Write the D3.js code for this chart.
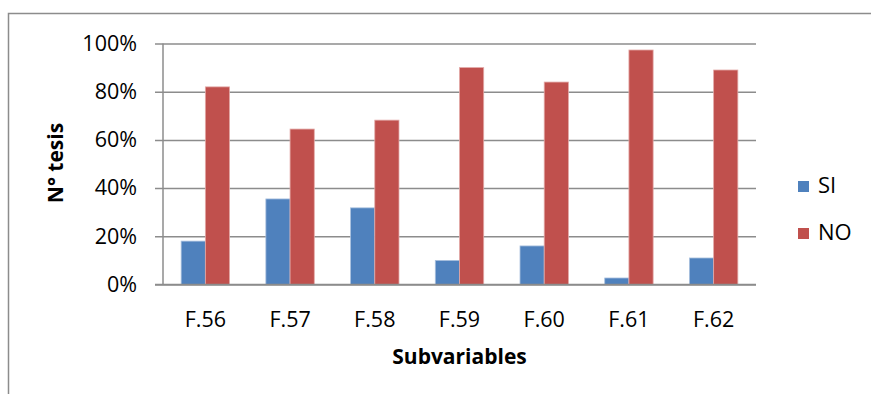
<!DOCTYPE html>
<html>
<head>
<meta charset="utf-8">
<script src="https://cdn.jsdelivr.net/npm/d3@7/dist/d3.min.js"></script>
<style>
  html, body { margin: 0; padding: 0; background: #fff; }
  svg { display: block; }
  text { font-family: "Open Sans", "Liberation Sans", sans-serif; fill: #000; }
</style>
</head>
<body>
<svg id="chart" width="871" height="394"></svg>
<script>
// Share of theses per subvariable
const categories = ["F.56", "F.57", "F.58", "F.59", "F.60", "F.61", "F.62"];
const seriesNames = ["SI", "NO"];
const siValues = [0.18, 0.355, 0.318, 0.10, 0.16, 0.027, 0.11];
const noValues = [0.82, 0.645, 0.682, 0.90, 0.84, 0.973, 0.89];
const yTicks = [0, 0.2, 0.4, 0.6, 0.8, 1.0];
const colors = { SI: "#4F81BD", NO: "#C0504D" };
const strokes = { SI: "#a9c0de", NO: "#e3a9a7" };

const svg = d3.select("#chart");
const W = 871, H = 394;
const margin = { left: 163, right: W - 756, top: 43.5, bottom: H - 284.5 };
const labelFont = "'Open Sans', 'Liberation Sans', sans-serif";

// outer frame
svg.append("rect")
  .attr("x", 8.5).attr("y", 13.5)
  .attr("width", W + 10).attr("height", H + 10)
  .attr("fill", "none").attr("stroke", "#8c8c8c").attr("stroke-width", 1.5);

const x = d3.scaleBand()
  .domain(categories)
  .range([margin.left, W - margin.right])
  .paddingInner(1.5 / 3.5)
  .paddingOuter(0.75 / 3.5);

const xs = d3.scaleBand()
  .domain(seriesNames)
  .range([0, x.bandwidth()]);

const y = d3.scaleLinear()
  .domain([0, 1])
  .range([H - margin.bottom, margin.top]);

// gridlines + y axis
const yAxis = d3.axisLeft(y)
  .tickValues(yTicks)
  .tickFormat(d3.format(".0%"))
  .tickSize(-(W - margin.right - margin.left))
  .tickPadding(26);

const gy = svg.append("g")
  .attr("transform", `translate(${margin.left},0)`)
  .call(yAxis);
gy.select(".domain").remove();
gy.selectAll(".tick line")
  .attr("x1", -8)
  .attr("stroke", "#8c8c8c").attr("stroke-width", 1.5);
gy.selectAll(".tick text")
  .attr("font-size", "21.5px")
  .style("font-family", labelFont)
  .attr("fill", "#000");

// bars
const data = categories.map((c, i) => ({ cat: c, SI: siValues[i], NO: noValues[i] }));
const groups = svg.append("g").selectAll("g")
  .data(data).join("g")
  .attr("transform", d => `translate(${x(d.cat)},0)`);

groups.selectAll("rect")
  .data(d => seriesNames.map(k => ({ key: k, value: d[k] })))
  .join("rect")
  .attr("x", d => xs(d.key))
  .attr("y", d => y(d.value))
  .attr("width", xs.bandwidth())
  .attr("height", d => y(0) - y(d.value))
  .attr("fill", d => colors[d.key])
  .attr("stroke", d => strokes[d.key])
  .attr("stroke-width", 0.8);

// y axis line
svg.append("line")
  .attr("x1", margin.left).attr("x2", margin.left)
  .attr("y1", y(1)).attr("y2", y(0))
  .attr("stroke", "#8c8c8c").attr("stroke-width", 1.5);

// x axis
const xAxis = d3.axisBottom(x).tickSize(0).tickPadding(27);
const gx = svg.append("g")
  .attr("transform", `translate(0,${y(0)})`)
  .call(xAxis);
gx.select(".domain")
  .attr("d", `M${margin.left - 8},0H${W - margin.right}`)
  .attr("stroke", "#8c8c8c").attr("stroke-width", 1.5);
gx.selectAll(".tick text")
  .attr("font-size", "21.5px")
  .style("font-family", labelFont)
  .attr("fill", "#000");

// axis titles
svg.append("text")
  .attr("x", (margin.left + W - margin.right) / 2)
  .attr("y", 364)
  .attr("text-anchor", "middle")
  .attr("font-size", "21px")
  .attr("font-weight", "bold")
  .text("Subvariables");

svg.append("text")
  .attr("transform", "translate(63,163) rotate(-90)")
  .attr("text-anchor", "middle")
  .attr("font-size", "21px")
  .attr("font-weight", "bold")
  .text("N° tesis");

// legend
const legend = svg.append("g").selectAll("g")
  .data(seriesNames).join("g")
  .attr("transform", (d, i) => `translate(798,${181 + i * 47})`);
legend.append("rect")
  .attr("width", 11).attr("height", 11)
  .attr("fill", d => colors[d]);
legend.append("text")
  .attr("x", 20).attr("y", 12)
  .attr("font-size", "22px")
  .text(d => d);
</script>
</body>
</html>
